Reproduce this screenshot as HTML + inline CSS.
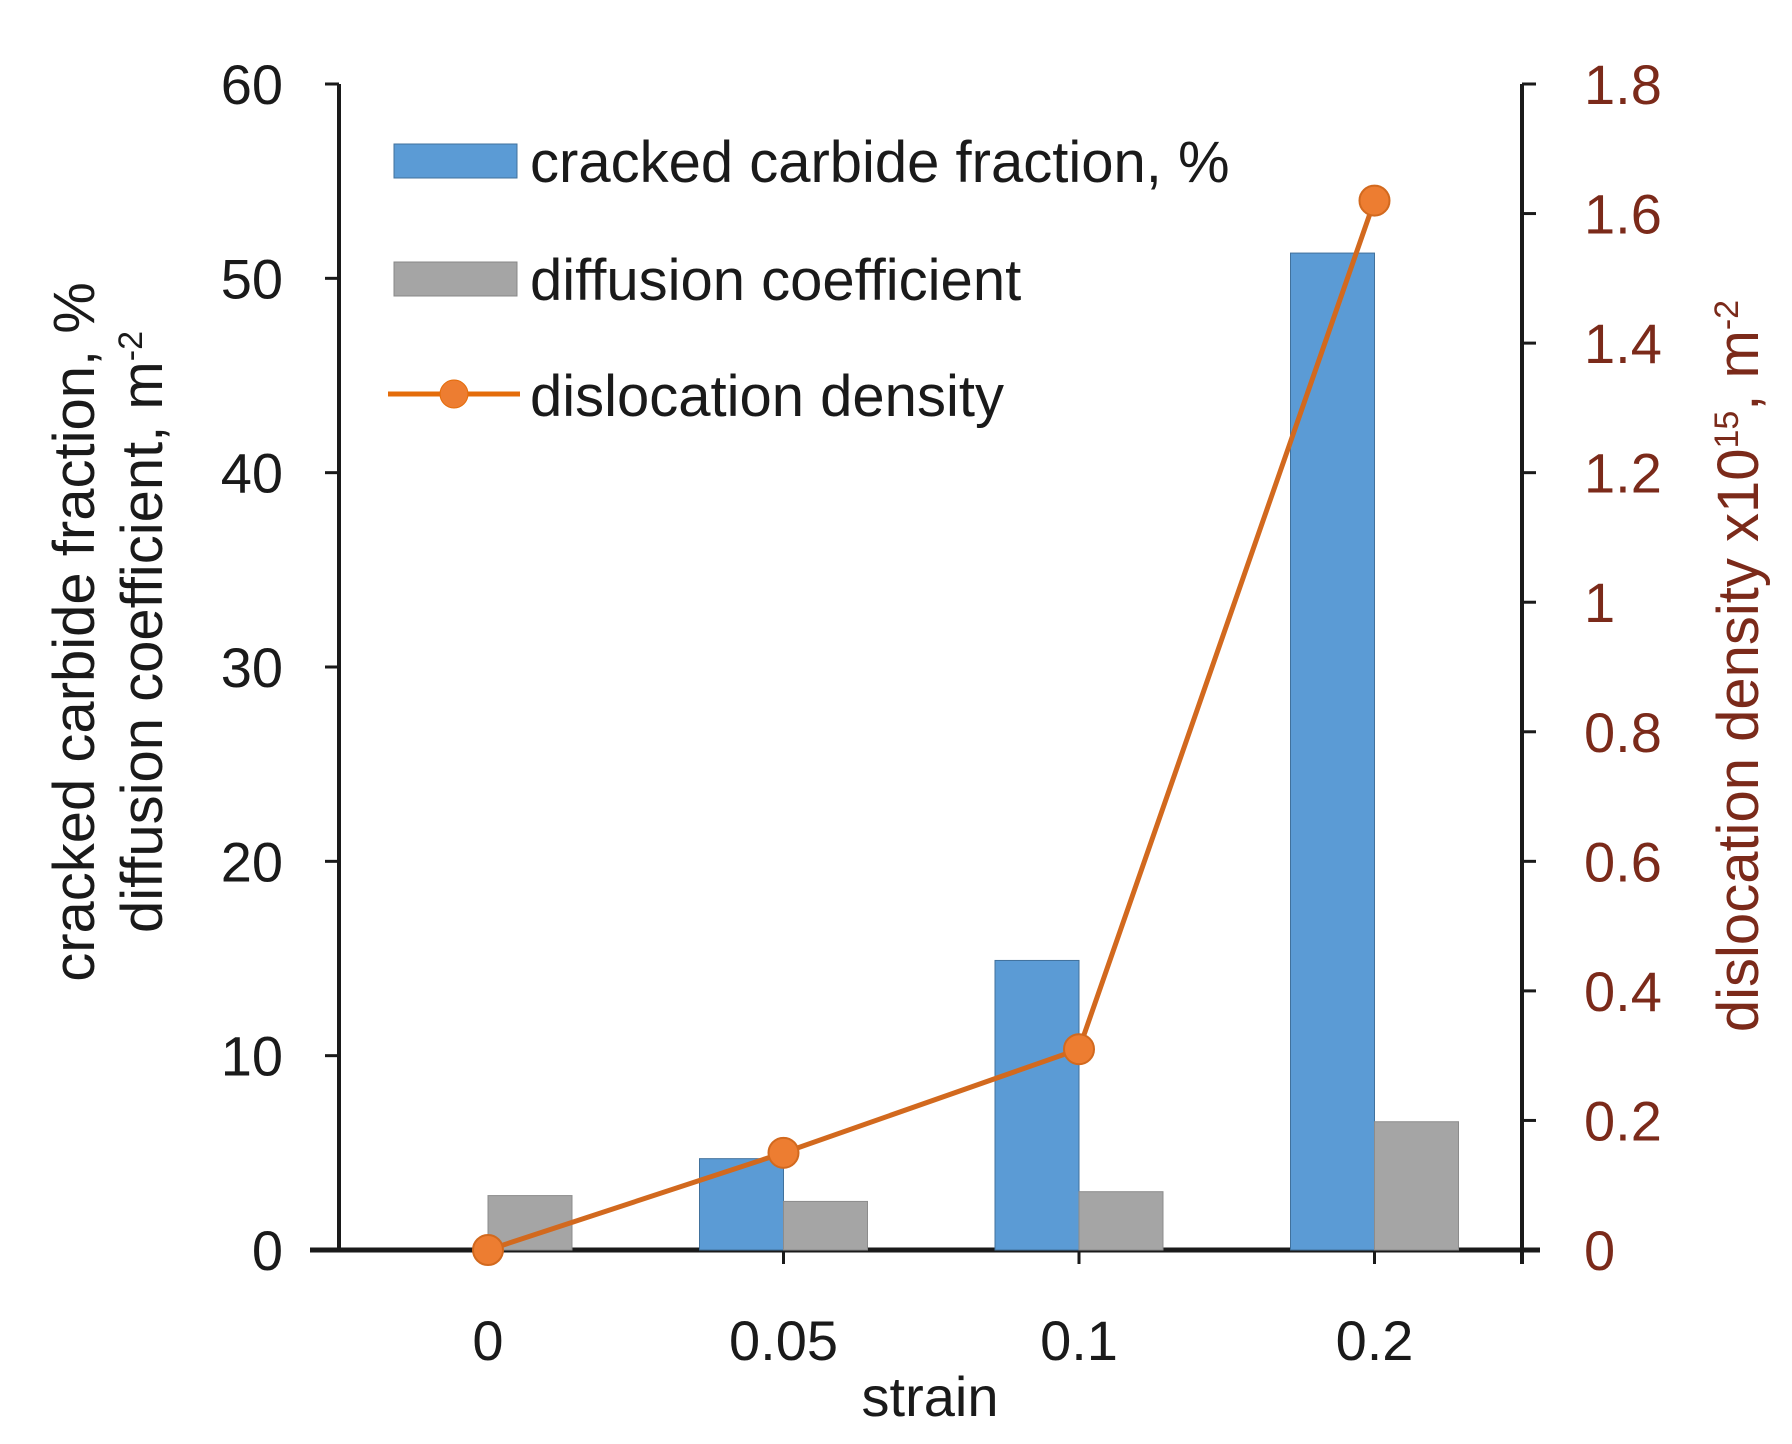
<!DOCTYPE html>
<html><head><meta charset="utf-8"><style>
html,body{margin:0;padding:0;background:#fff}
svg{display:block;font-family:"Liberation Sans",sans-serif}
</style></head><body>
<svg id="chart" width="1792" height="1444" viewBox="0 0 1792 1444">
<g id="axes"></g>
<g id="bars"></g>
<g id="line"></g>
<g>
  <rect x="394" y="144" width="123" height="34" fill="#5b9bd5" stroke="#41719c"/>
  <text x="530" y="182" font-size="58" fill="#1a1a1a">cracked carbide fraction, %</text>
  <rect x="394" y="262" width="123" height="34" fill="#a5a5a5" stroke="#888"/>
  <text x="530" y="300" font-size="58" fill="#1a1a1a">diffusion coefficient</text>
  <line x1="388" y1="394" x2="520" y2="394" stroke="#e46c0a" stroke-width="5"/>
  <circle cx="454" cy="394" r="14" fill="#ed7d31" stroke="#e46c0a"/>
  <text x="530" y="416" font-size="58" fill="#1a1a1a">dislocation density</text>
</g>
<text transform="translate(94,632) rotate(-90)" text-anchor="middle" font-size="58" fill="#1a1a1a">cracked carbide fraction, %</text>
<text transform="translate(162,632) rotate(-90)" text-anchor="middle" font-size="58" fill="#1a1a1a">diffusion coefficient, m<tspan dy="-20" font-size="34">-2</tspan></text>
<text transform="translate(1758,666) rotate(-90)" text-anchor="middle" font-size="58" fill="#7b2a1a">dislocation density x10<tspan dy="-20" font-size="34">15</tspan><tspan dy="20">, m</tspan><tspan dy="-20" font-size="34">-2</tspan></text>
<text x="930" y="1416" text-anchor="middle" font-size="56" fill="#1a1a1a">strain</text>
</svg>
<script>
const categories = ["0","0.05","0.1","0.2"];
const crackedValues = [0, 4.7, 14.9, 51.3];
const diffusionValues = [2.8, 2.5, 3.0, 6.6];
const dislocationValues = [0, 0.15, 0.31, 1.62];
const leftTicks = [0,10,20,30,40,50,60];
const rightTicks = ["0","0.2","0.4","0.6","0.8","1","1.2","1.4","1.6","1.8"];

const NS="http://www.w3.org/2000/svg";
const X0=339, X1=1522, Y0=1250, YT=84;
const yL=v=>Y0-(v/60)*(Y0-YT);
const yR=v=>Y0-(v/1.8)*(Y0-YT);
const xC=i=>488+i*295.5;
const BW=84;
function mk(tag,parent,attrs){const e=document.createElementNS(NS,tag);for(const k in attrs)e.setAttribute(k,attrs[k]);parent.appendChild(e);return e;}
const axes=document.getElementById('axes'),bars=document.getElementById('bars'),line=document.getElementById('line');

categories.forEach((c,i)=>{
  let r=mk('rect',bars,{x:xC(i)-BW,y:yL(crackedValues[i]),width:BW,height:Y0-yL(crackedValues[i]),fill:'#5b9bd5',stroke:'#41719c','stroke-width':1});
  
  
  let g=mk('rect',bars,{x:xC(i),y:yL(diffusionValues[i]),width:BW,height:Y0-yL(diffusionValues[i]),fill:'#a5a5a5',stroke:'#8c8c8c','stroke-width':1});
  
  
  let t=mk('text',axes,{x:xC(i),y:1360,'text-anchor':'middle','font-size':56,fill:'#1a1a1a'});
  t.textContent=c;
  
  
  let tk=mk('line',axes,{x1:xC(i),y1:Y0,x2:xC(i),y2:Y0+14,stroke:'#1a1a1a','stroke-width':3});
  
  
});
let ax=mk('line',axes,{x1:310,y1:Y0,x2:1540,y2:Y0,stroke:'#1a1a1a','stroke-width':5});


let la=mk('line',axes,{x1:X0,y1:YT,x2:X0,y2:Y0,stroke:'#1a1a1a','stroke-width':4});


let ra=mk('line',axes,{x1:X1,y1:YT,x2:X1,y2:Y0+14,stroke:'#1a1a1a','stroke-width':4});


leftTicks.forEach(v=>{
  let l=mk('line',axes,{x1:X0-14,y1:yL(v),x2:X0,y2:yL(v),stroke:'#1a1a1a','stroke-width':3});
  
  
  let t=mk('text',axes,{x:283,y:yL(v)+20,'text-anchor':'end','font-size':56,fill:'#1a1a1a'});
  t.textContent=v;
  
  
});
rightTicks.forEach(s=>{
  const v=parseFloat(s);
  let l=mk('line',axes,{x1:X1,y1:yR(v),x2:X1+14,y2:yR(v),stroke:'#1a1a1a','stroke-width':3});
  
  
  let t=mk('text',axes,{x:1584,y:yR(v)+20,'font-size':56,fill:'#7b2a1a'});
  t.textContent=s;
  
  
});
let pts=dislocationValues.map((v,i)=>xC(i)+','+yR(v)).join(' ');
let pl=mk('polyline',line,{points:pts,fill:'none',stroke:'#d2691e','stroke-width':5});


dislocationValues.forEach((v,i)=>{
  let c=mk('circle',line,{cx:xC(i),cy:yR(v),r:15,fill:'#ed7d31',stroke:'#d2691e','stroke-width':2});
  
  
});
</script>
</body></html>
